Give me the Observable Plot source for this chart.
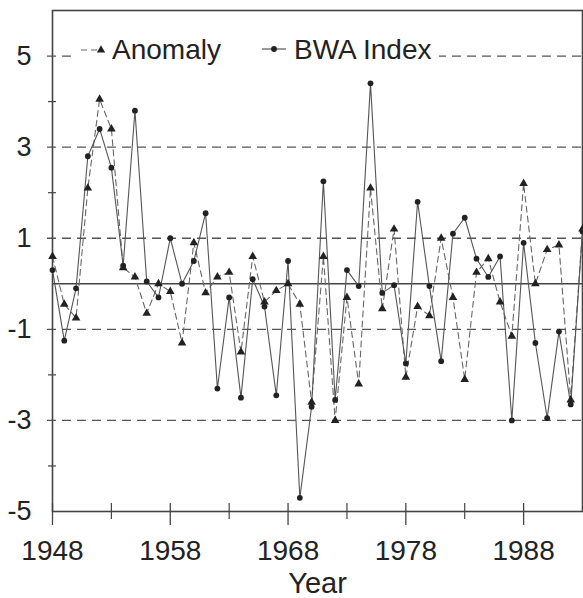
<!DOCTYPE html>
<html>
<head>
<meta charset="utf-8">
<script src="https://cdn.jsdelivr.net/npm/d3@7"></script>
<script src="https://cdn.jsdelivr.net/npm/@observablehq/plot@0.6"></script>
<style>
  html, body { margin: 0; padding: 0; background: #fff; }
  #chart { width: 583px; height: 598px; overflow: hidden; }
</style>
</head>
<body>
<div id="chart"></div>
<script>
const years = d3.range(1948, 1994);
const bwaIndex = [0.3, -1.25, -0.1, 2.8, 3.4, 2.55, 0.4, 3.8, 0.05, -0.3,
  1.0, 0.0, 0.5, 1.55, -2.3, -0.3, -2.5, 0.1, -0.5, -2.45,
  0.5, -4.7, -2.7, 2.25, -2.55, 0.3, -0.05, 4.4, -0.2, -0.03,
  -1.75, 1.8, -0.05, -1.7, 1.1, 1.45, 0.55, 0.15, 0.6, -3.0,
  0.9, -1.3, -2.95, -1.05, -2.65, 1.15];
const anomaly = [0.6, -0.45, -0.75, 2.1, 4.05, 3.4, 0.35, 0.15, -0.65, 0.0,
  -0.17, -1.3, 0.9, -0.2, 0.15, 0.25, -1.5, 0.6, -0.4, -0.15,
  0.0, -0.45, -2.6, 0.6, -3.0, -0.3, -2.2, 2.1, -0.55, 1.2,
  -2.05, -0.5, -0.7, 1.0, -0.3, -2.1, 0.25, 0.55, -0.4, -1.15,
  2.2, 0.0, 0.75, 0.85, -2.55, 1.2];
const yTickLabels = [5, 3, 1, -1, -3, -5];
const yMinorTicks = [-4, -2, 2, 4];
const xMajorTicks = [1948, 1958, 1968, 1978, 1988];
const xMinorTicks = [1953, 1963, 1973, 1983];
const seriesNames = ["Anomaly", "BWA Index"];

const bwaData = years.map((y, i) => ({year: y, value: bwaIndex[i]}));
const anoData = years.map((y, i) => ({year: y, value: anomaly[i]}));
const x0 = years[0], yMin = -5;

const chart = Plot.plot({
  width: 583,
  height: 598,
  marginLeft: 52,
  marginRight: 1,
  marginTop: 10,
  marginBottom: 87,
  style: {fontFamily: "'Liberation Sans', Arial, sans-serif", background: "#fff", color: "#222"},
  x: {domain: [1948, 1993]},
  y: {domain: [-5, 6]},
  marks: [
    Plot.ruleY([5, 3, 1, -1, -3], {stroke: "#555", strokeWidth: 1.3, strokeDasharray: "9,6", insetLeft: -5}),
    Plot.ruleY([0], {stroke: "#444", strokeWidth: 1.6}),
    Plot.ruleY(yMinorTicks, {x1: () => x0, x2: () => x0, insetLeft: -4, insetRight: -4, stroke: "#444", strokeWidth: 1.2}),
    Plot.ruleX(xMajorTicks, {x: d => d, y1: () => yMin, y2: () => yMin, insetTop: -8, insetBottom: -14, stroke: "#444", strokeWidth: 1.3}),
    Plot.ruleX(xMinorTicks, {x: d => d, y1: () => yMin, y2: () => yMin, insetTop: -8, insetBottom: -8, stroke: "#444", strokeWidth: 1.2}),
    Plot.frame({stroke: "#444", strokeWidth: 1.6}),
    Plot.axisY({ticks: yTickLabels, tickSize: 0, tickPadding: 21, tickFormat: d => `${d}`, fontSize: 27, label: null}),
    Plot.axisX({ticks: xMajorTicks, tickSize: 0, tickPadding: 29, tickFormat: d => `${d}`, fontSize: 28, label: null}),
    Plot.text(["Year"], {frameAnchor: "bottom", dy: 81, lineAnchor: "bottom", fontSize: 29, fill: "#222"}),
    Plot.line(anoData, {x: "year", y: "value", stroke: "#666", strokeWidth: 1.1, strokeDasharray: "6,4"}),
    Plot.line(bwaData, {x: "year", y: "value", stroke: "#555", strokeWidth: 1.1}),
    Plot.dot(anoData, {x: "year", y: "value", symbol: "triangle", r: 3.2, fill: "#222", stroke: "none"}),
    Plot.dot(bwaData, {x: "year", y: "value", r: 2.9, fill: "#222", stroke: "none"})
  ]
});

document.getElementById("chart").appendChild(chart);

// legend inside the plot area
const svg = d3.select(chart);
const lg = svg.append("g").attr("font-family", "'Liberation Sans', Arial, sans-serif").attr("text-anchor", "start");
lg.append("rect").attr("x", 77).attr("y", 34).attr("width", 362).attr("height", 32).attr("fill", "#fff");
lg.append("line").attr("x1", 81).attr("x2", 101).attr("y1", 50).attr("y2", 50)
  .attr("stroke", "#666").attr("stroke-width", 1.2).attr("stroke-dasharray", "6,4");
lg.append("path").attr("d", d3.symbol(d3.symbolTriangle, 30)()).attr("transform", "translate(101,50)").attr("fill", "#222");
lg.append("text").attr("x", 112).attr("y", 59).attr("font-size", 28).attr("fill", "#222").text(seriesNames[0]);
lg.append("line").attr("x1", 262).attr("x2", 286).attr("y1", 49).attr("y2", 49)
  .attr("stroke", "#555").attr("stroke-width", 1.2);
lg.append("circle").attr("cx", 274).attr("cy", 49).attr("r", 2.9).attr("fill", "#222");
lg.append("text").attr("x", 294).attr("y", 59).attr("font-size", 28).attr("fill", "#222").text(seriesNames[1]);
</script>
</body>
</html>
